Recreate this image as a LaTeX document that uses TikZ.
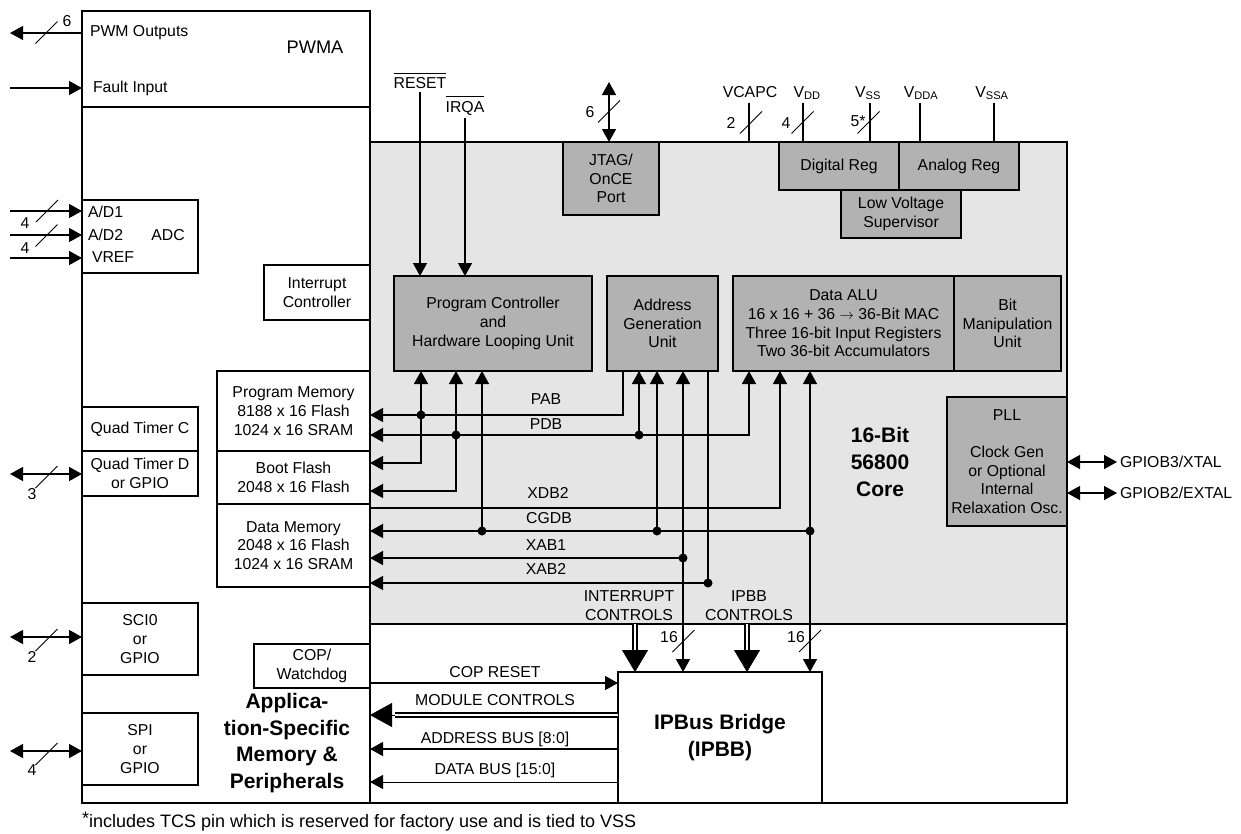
\documentclass[tikz,border=0pt]{standalone}
\usepackage{fontspec}
\setmainfont{Liberation Sans}
\usetikzlibrary{arrows.meta,calc}
\definecolor{coregray}{gray}{0.9}
\definecolor{blockgray}{gray}{0.7}
\newcommand{\busmark}[1]{\draw[markline] (#1) ++(-11,11) -- ++(22,-22);}
\begin{document}
\begin{tikzpicture}[x=1pt,y=-1pt,
  every node/.style={inner sep=0pt, outer sep=0pt, font=\fontsize{15.8pt}{18.7pt}\selectfont},
  box/.style={draw, line width=1.8pt, align=center, fill=white},
  gbox/.style={box, fill=blockgray},
  frame/.style={draw, line width=1.8pt, anchor=north west},
  bus/.style={line width=1.4pt},
  arr/.style={bus, -{Triangle[length=13pt,width=14pt]}},
  arrs/.style={bus, {Triangle[length=13pt,width=14pt]}-{Triangle[length=13pt,width=14pt]}},
  markline/.style={line width=1pt},
  dbl/.style={draw, line width=2pt, double=white, double distance=1.4pt},
  bigtip/.style={line width=0.4pt, -{Triangle[length=22pt,width=26pt]}},
  bold/.style={font=\fontsize{21pt}{26.7pt}\selectfont\bfseries, align=center},
  dot/.style={fill=black}
]
\useasboundingbox (0,0) rectangle (1241,833);

% frames
\node[frame, fill=coregray, minimum width=697pt, minimum height=482pt] (core) at (370,142) {};
\node[frame, minimum width=288pt, minimum height=792pt] (asm) at (82,11) {};
\node[frame, minimum width=288pt, minimum height=96pt] (pwma) at (82,11) {};
\node[frame, minimum width=697pt, minimum height=179pt] (lower) at (370,624) {};

% PWMA
\node[anchor=west] (lpwm) at (90,33) {PWM Outputs};
\node[anchor=west] (lfault) at (93,88) {Fault Input};
\node[font=\fontsize{18.2pt}{22pt}\selectfont] (lpwma) at (315,47) {PWMA};
\coordinate (pwmo) at (10,33);
\draw[arr] (pwma.west |- pwmo) -- (pwmo);
\busmark{46.5,32.5}
\node (n6a) at (67,21) {6};
\coordinate (fault) at (10,88);
\draw[arr] (fault) -- (pwma.west |- fault);

% ADC
\node[box, minimum width=116pt, minimum height=73pt] (adc) at (140,236.5) {};
\node[anchor=west] (lad1) at (88,212) {A/D1};
\node[anchor=west] (lad2) at (88,235) {A/D2};
\node[anchor=west] (lvref) at (92,257) {VREF};
\node (ladc) at (168,235) {ADC};
\coordinate (ad1) at (10,211);
\coordinate (ad2) at (10,235);
\coordinate (vref) at (10,258);
\draw[arr] (ad1) -- (adc.west |- ad1);
\draw[arr] (ad2) -- (adc.west |- ad2);
\draw[arr] (vref) -- (adc.west |- vref);
\busmark{47,211}
\busmark{46.5,235.5}
\node (n4a) at (25,223) {4};
\node (n4b) at (25,248) {4};

% left column boxes
\node[box, minimum width=106pt, minimum height=55pt] (ic) at (317,292.5) {Interrupt\\Controller};
\node[box, minimum width=116pt, minimum height=44pt] (qtc) at (140,429) {Quad Timer C};
\node[box, minimum width=116pt, minimum height=45pt] (qtd) at (140,473.5) {Quad Timer D\\or GPIO};
\node[box, minimum width=116pt, minimum height=72pt] (sci) at (140,639) {SCI0\\or\\GPIO};
\node[box, minimum width=116pt, minimum height=72pt] (spi) at (140,749) {SPI\\or\\GPIO};
\node[box, minimum width=116pt, minimum height=44pt] (cop) at (312,666) {COP/\\Watchdog};
\node[box, minimum width=153pt, minimum height=80pt] (pm) at (293.5,411) {Program Memory\\8188 x 16 Flash\\1024 x 16 SRAM};
\node[box, minimum width=153pt, minimum height=53pt] (bf) at (293.5,477.5) {Boot Flash\\2048 x 16 Flash};
\node[box, minimum width=153pt, minimum height=83pt] (dm) at (293.5,545.5) {Data Memory\\2048 x 16 Flash\\1024 x 16 SRAM};
\node[bold] (lasm) at (287,743) {Applica-\\tion-Specific\\Memory \&\\Peripherals};

\coordinate (qtdp) at (10,474);
\coordinate (scip) at (10,637);
\coordinate (spip) at (10,751);
\draw[arrs] (qtdp) -- (qtd.west |- qtdp);
\draw[arrs] (scip) -- (sci.west |- scip);
\draw[arrs] (spip) -- (spi.west |- spip);
\busmark{46.5,477}
\busmark{46.5,640}
\busmark{46.5,754}
\node (n3) at (32,494) {3};
\node (n2a) at (32,657) {2};
\node (n4c) at (32,770) {4};

% core blocks
\node[gbox, minimum width=96pt, minimum height=73pt] (jtag) at (611,178.5) {JTAG/\\OnCE\\Port};
\node[gbox, minimum width=120pt, minimum height=48pt] (dreg) at (839,166) {Digital Reg};
\node[gbox, minimum width=120pt, minimum height=48pt] (areg) at (959,166) {Analog Reg};
\node[gbox, minimum width=120pt, minimum height=48pt] (lvs) at (901,214) {Low Voltage\\Supervisor};
\node[gbox, minimum width=198pt, minimum height=95pt] (pc) at (493,323.5) {Program Controller\\and\\Hardware Looping Unit};
\node[gbox, minimum width=111pt, minimum height=95pt] (agu) at (662.5,323.5) {Address\\Generation\\Unit};
\node[gbox, minimum width=221pt, minimum height=95pt] (alu) at (843.5,323.5) {Data ALU\\16 x 16 + 36 $\rightarrow$ 36-Bit MAC\\Three 16-bit Input Registers\\Two 36-bit Accumulators};
\node[gbox, minimum width=107pt, minimum height=95pt] (bmu) at (1007.5,323.5) {Bit\\Manipulation\\Unit};
\node[gbox, minimum width=120pt, minimum height=129pt] (pll) at (1007,461.5) {PLL\\[18.7pt]Clock Gen\\or Optional\\Internal\\Relaxation Osc.};
\node[bold] (lcore) at (880,462) {16-Bit\\56800\\Core};

% IPBB
\node[box, minimum width=204pt, minimum height=131pt, font=\fontsize{21pt}{26.7pt}\selectfont\bfseries] (ipbb) at (720,737.5) {IPBus Bridge\\(IPBB)};

% PLL pins
\coordinate (xtal) at (1117,462);
\coordinate (extal) at (1117,493);
\draw[arrs] (core.east |- xtal) -- (xtal);
\draw[arrs] (core.east |- extal) -- (extal);
\node[anchor=west] (lxtal) at (1120,462) {GPIOB3/XTAL};
\node[anchor=west] (lextal) at (1120,493) {GPIOB2/EXTAL};

% RESET / IRQA
\node (lrst) at (420,83) {RESET};
\draw[line width=1pt] ([yshift=4pt]lrst.north west) -- ([yshift=4pt]lrst.north east);
\node (lirq) at (465,108) {IRQA};
\draw[line width=1pt] ([yshift=4pt]lirq.north west) -- ([yshift=4pt]lirq.north east);
\coordinate (rst) at (420,92);
\coordinate (irq) at (465,118);
\draw[arr] (rst) -- (pc.north -| rst);
\draw[arr] (irq) -- (pc.north -| irq);

% JTAG
\coordinate (jt) at (609,82);
\draw[arrs] (jt) -- (jtag.north -| jt);
\busmark{609,111.5}
\node (n6b) at (590,112) {6};

% power pins
\coordinate (vcapc) at (749,103);
\coordinate (vdd) at (803,103);
\coordinate (vss) at (870,103);
\coordinate (vdda) at (920,103);
\coordinate (vssa) at (994,103);
\draw[bus] (vcapc) -- (core.north -| vcapc);
\draw[bus] (vdd) -- (dreg.north -| vdd);
\draw[bus] (vss) -- (dreg.north -| vss);
\draw[bus] (vdda) -- (areg.north -| vdda);
\draw[bus] (vssa) -- (areg.north -| vssa);
\node[anchor=base] (lvcapc) at (750,97) {VCAPC};
\node[anchor=base] (lvdd) at (807,97) {V\textsubscript{DD}};
\node[anchor=base] (lvss) at (868,97) {V\textsubscript{SS}};
\node[anchor=base] (lvdda) at (921,97) {V\textsubscript{DDA}};
\node[anchor=base] (lvssa) at (992,97) {V\textsubscript{SSA}};
\busmark{751,122.5}
\busmark{802.5,122.5}
\busmark{868.5,122.5}
\node (n2b) at (731,123) {2};
\node (n4d) at (786,123) {4};
\node (n5) at (858,121) {5*};

% buses
\coordinate (pab) at (623,415);
\coordinate (pdb) at (749,435);
\coordinate (bf1) at (421,463);
\coordinate (bf2) at (456,491);
\coordinate (v3) at (482,531);
\coordinate (xdb) at (780,508);
\coordinate (cgdb) at (810,531);
\coordinate (a2) at (639,435);
\coordinate (a3) at (657,531);
\coordinate (xab1) at (683,558);
\coordinate (xab2) at (708,583);

\draw[arr] (agu.south -| pab) |- (pm.east |- pab);
\draw[arrs] (alu.south -| pdb) |- (pm.east |- pdb);
\draw[arrs] (pc.south -| bf1) |- (bf.east |- bf1);
\draw[arrs] (pc.south -| bf2) |- (bf.east |- bf2);
\draw[arr] (v3) -- (pc.south -| v3);
\draw[arr] (dm.east |- xdb) -| (alu.south -| xdb);
\draw[arr] (cgdb) -- (dm.east |- cgdb);
\draw[arrs] (alu.south -| cgdb) -- (ipbb.north -| cgdb);
\draw[arr] (a2) -- (agu.south -| a2);
\draw[arr] (a3) -- (agu.south -| a3);
\draw[arr] (xab1) -- (dm.east |- xab1);
\draw[arrs] (agu.south -| xab1) -- (ipbb.north -| xab1);
\draw[arr] (agu.south -| xab2) |- (dm.east |- xab2);

\fill[dot] (421,415) circle (4.5pt);
\fill[dot] (456,435) circle (4.5pt);
\fill[dot] (639,435) circle (4.5pt);
\fill[dot] (482,531) circle (4.5pt);
\fill[dot] (657,531) circle (4.5pt);
\fill[dot] (810,531) circle (4.5pt);
\fill[dot] (683,558) circle (4.5pt);
\fill[dot] (708,583) circle (4.5pt);

\node (lpab) at (546,399) {PAB};
\node (lpdb) at (546,424) {PDB};
\node (lxdb) at (548,493) {XDB2};
\node (lcgdb) at (549,518) {CGDB};
\node (lxab1) at (546,545) {XAB1};
\node (lxab2) at (546,569) {XAB2};

\node[align=center] (lintc) at (629,605.5) {INTERRUPT\\CONTROLS};
\node[align=center] (lipbbc) at (749,605.5) {IPBB\\CONTROLS};
\coordinate (intc) at (635,650);
\coordinate (ipbc) at (747,650);
\draw[dbl] (core.south -| intc) -- (intc);
\draw[bigtip] (intc) -- (ipbb.north -| intc);
\draw[dbl] (core.south -| ipbc) -- (ipbc);
\draw[bigtip] (ipbc) -- (ipbb.north -| ipbc);

\busmark{683.5,641}
\busmark{810,641}
\node (n16a) at (669,637) {16};
\node (n16b) at (796,637) {16};

\coordinate (copr) at (618,683);
\coordinate (modc) at (395,715);
\coordinate (adb) at (618,749);
\coordinate (dtb) at (618,782);
\draw[arr] (cop.east |- copr) -- (ipbb.west |- copr);
\draw[dbl, line width=2pt, double distance=1.4pt] (ipbb.west |- modc) -- (modc);
\draw[line width=0.4pt, -{Triangle[length=22pt,width=24pt]}] (modc) -- (asm.east |- modc);
\draw[arr] (ipbb.west |- adb) -- (asm.east |- adb);
\draw[line width=1pt, -{Triangle[length=13pt,width=14pt]}] (ipbb.west |- dtb) -- (asm.east |- dtb);
\node (lcopr) at (495,672) {COP RESET};
\node (lmodc) at (495,700) {MODULE CONTROLS};
\node (ladb) at (495,739) {ADDRESS BUS [8:0]};
\node (ldtb) at (495,770) {DATA BUS [15:0]};

% footnote
\node[anchor=base west, font=\fontsize{18pt}{21pt}\selectfont] (foot) at (82,827) {\raisebox{3pt}{*}includes TCS pin which is reserved for factory use and is tied to VSS};
\end{tikzpicture}
\end{document}
